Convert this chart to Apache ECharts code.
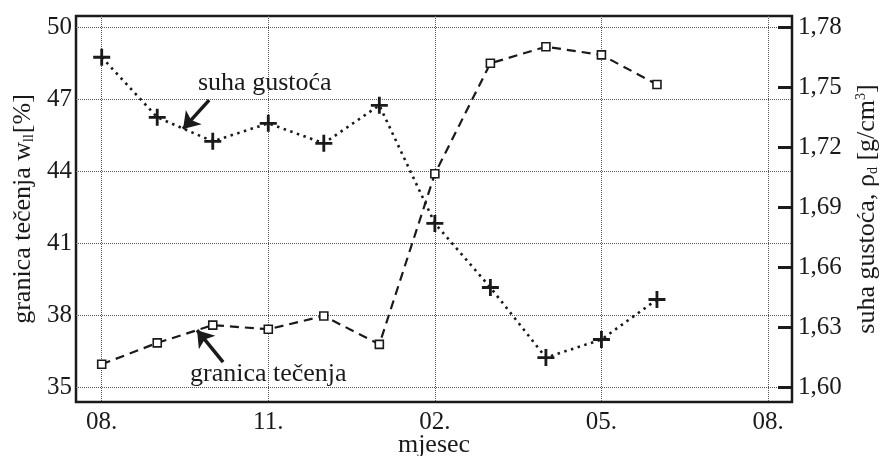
<!DOCTYPE html>
<html>
<head>
<meta charset="utf-8">
<script src="https://cdn.jsdelivr.net/npm/echarts@6/dist/echarts.min.js"></script>
<style>
  html, body { margin: 0; background: #fff; }
  #chart { width: 880px; height: 456px; }
</style>
</head>
<body>
<div id="chart"></div>
<script>
// mjeseci mjerenja (08. do 06.)
const months = ['08', '09', '10', '11', '12', '01', '02', '03', '04', '05', '06']
// granica tečenja w_ll [%]
const granicaTecenja = [35.97, 36.86, 37.60, 37.43, 37.98, 36.80, 43.90, 48.50, 49.19, 48.85, 47.62]
// suha gustoća [g/cm3]
const suhaGustoca = [1.765, 1.735, 1.723, 1.732, 1.722, 1.741, 1.682, 1.650, 1.615, 1.624, 1.644]

const xTickPos = [0, 3, 6, 9, 12]
const xTickLabels = ['08.', '11.', '02.', '05.', '08.']
const leftTicks = [35, 38, 41, 44, 47, 50]
const rightTicks = [1.60, 1.63, 1.66, 1.69, 1.72, 1.75, 1.78]

const font = 'Liberation Serif'
const ink = '#1a1a1a'
const gridColor = '#555'

const chart = echarts.init(document.getElementById('chart'))

const plusPath = 'path://M0,7.5h7.5v-7.5h3v7.5h7.5v3h-7.5v7.5h-3v-7.5h-7.5z'

const option = {
  animation: false,
  backgroundColor: '#fff',
  grid: {
    left: 76, right: 88, top: 16, bottom: 54,
    outerBoundsMode: 'none', // ne smanjuj grid zbog natpisa
    show: true,
    borderColor: ink,
    borderWidth: 2.5,
    backgroundColor: 'transparent'
  },
  xAxis: {
    type: 'value',
    min: -0.463,
    max: 12.432,
    name: 'mjesec',
    nameLocation: 'middle',
    nameGap: 30,
    nameMoveOverlap: false,
    nameTextStyle: { fontFamily: font, fontSize: 26, color: ink },
    axisLine: { show: false },
    axisTick: { show: false, customValues: xTickPos },
    axisLabel: {
      customValues: xTickPos,
      formatter: v => xTickLabels[xTickPos.indexOf(Math.round(v))],
      fontFamily: font, fontSize: 25, color: ink, margin: 8
    },
    splitLine: { show: true, lineStyle: { type: 'dotted', color: gridColor, width: 1 } }
  },
  yAxis: [
    {
      type: 'value',
      position: 'left',
      min: 34.40,
      max: 50.47,
      name: 'granica tečenja w{sub|ll}[%]',
      nameLocation: 'middle',
      nameGap: 40,
      nameRotate: 90,
      nameTextStyle: {
        fontFamily: font, fontSize: 26, color: ink,
        rich: { sub: { fontFamily: font, fontSize: 14, color: ink, verticalAlign: 'bottom', padding: [10, 1, 0, 0] } }
      },
      axisLine: { show: false },
      axisTick: { show: false, customValues: leftTicks },
      axisLabel: { customValues: leftTicks, fontFamily: font, fontSize: 25, color: ink, margin: 4 },
      splitLine: { show: true, lineStyle: { type: 'dotted', color: gridColor, width: 1 } }
    },
    {
      type: 'value',
      position: 'right',
      min: 1.5928,
      max: 1.7856,
      name: 'suha gustoća, ρ{sub|d} [g/cm{sup|3}]',
      nameLocation: 'middle',
      nameGap: 62,
      nameRotate: 90,
      nameTextStyle: {
        fontFamily: font, fontSize: 26, color: ink,
        rich: {
          sub: { fontFamily: font, fontSize: 14, color: ink, verticalAlign: 'bottom', padding: [10, 0, 0, 0] },
          sup: { fontFamily: font, fontSize: 14, color: ink, verticalAlign: 'top', padding: [0, 0, 12, 0] }
        }
      },
      axisLine: { show: false },
      axisTick: { show: true, inside: true, length: 14, customValues: rightTicks, lineStyle: { color: ink, width: 3 } },
      axisLabel: {
        customValues: rightTicks,
        formatter: v => v.toFixed(2).replace('.', ','),
        fontFamily: font, fontSize: 25, color: ink, margin: 6
      },
      splitLine: { show: false }
    }
  ],
  series: [
    {
      name: 'granica tečenja',
      type: 'line',
      yAxisIndex: 0,
      data: months.map((m, i) => [i, granicaTecenja[i]]),
      symbol: 'rect',
      symbolSize: 8,
      itemStyle: { color: '#fff', borderColor: ink, borderWidth: 1.6 },
      lineStyle: { color: ink, width: 2.2, type: [9, 6] },
      z: 3,
      markLine: {
        silent: true,
        symbol: ['none', 'arrow'],
        symbolSize: 16,
        label: { show: false },
        lineStyle: { color: ink, width: 3.5, type: 'solid' },
        data: [[{ coord: [2.186, 36.06] }, { coord: [1.717, 37.39] }]]
      }
    },
    {
      name: 'suha gustoća',
      type: 'line',
      yAxisIndex: 1,
      data: months.map((m, i) => [i, suhaGustoca[i]]),
      symbol: plusPath,
      symbolSize: 17,
      itemStyle: { color: ink },
      lineStyle: { color: ink, width: 2.6, type: [2.5, 4.5] },
      z: 4,
      markLine: {
        silent: true,
        symbol: ['none', 'arrow'],
        symbolSize: 16,
        label: { show: false },
        lineStyle: { color: ink, width: 3.5, type: 'solid' },
        data: [[{ coord: [1.935, 1.7436] }, { coord: [1.465, 1.7292] }]]
      }
    }
  ],
  graphic: [
    {
      type: 'text', left: 198, top: 70, z: 10,
      style: { text: 'suha gustoća', font: '26px "Liberation Serif"', fill: ink }
    },
    {
      type: 'text', left: 190, top: 361, z: 10,
      style: { text: 'granica tečenja', font: '26px "Liberation Serif"', fill: ink }
    }
  ]
}

chart.setOption(option)
</script>
</body>
</html>
